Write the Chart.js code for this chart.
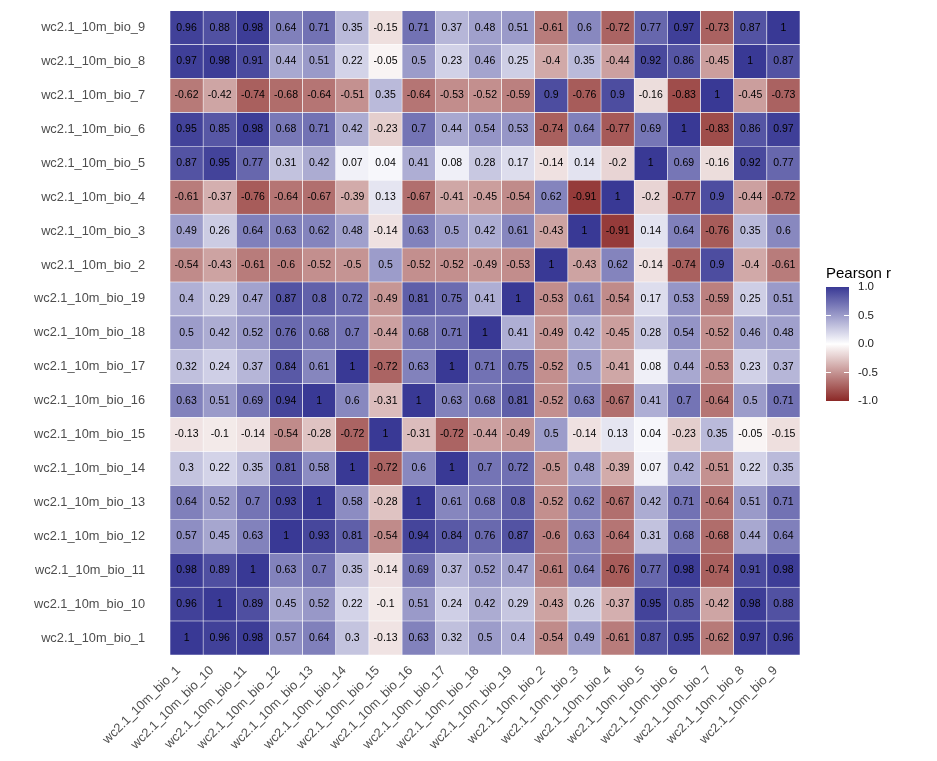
<!DOCTYPE html>
<html>
<head>
<meta charset="utf-8">
<script src="https://cdn.jsdelivr.net/npm/chart.js@4.4.1/dist/chart.umd.min.js"></script>
<style>
  html, body { margin: 0; padding: 0; background: #ffffff; overflow: hidden; }
  #wrap { width: 937px; height: 775px; position: relative; margin-top: -14px; }
</style>
</head>
<body>
<div id="wrap"><canvas id="c"></canvas></div>
<script>
// Variable order (x: left to right, y: bottom to top)
const vars = ["wc2.1_10m_bio_1","wc2.1_10m_bio_10","wc2.1_10m_bio_11","wc2.1_10m_bio_12","wc2.1_10m_bio_13",
  "wc2.1_10m_bio_14","wc2.1_10m_bio_15","wc2.1_10m_bio_16","wc2.1_10m_bio_17","wc2.1_10m_bio_18",
  "wc2.1_10m_bio_19","wc2.1_10m_bio_2","wc2.1_10m_bio_3","wc2.1_10m_bio_4","wc2.1_10m_bio_5",
  "wc2.1_10m_bio_6","wc2.1_10m_bio_7","wc2.1_10m_bio_8","wc2.1_10m_bio_9"];

// Correlation rows (one per variable, columns in the order of vars)
const r_bio_1  = [1, 0.96, 0.98, 0.57, 0.64, 0.3, -0.13, 0.63, 0.32, 0.5, 0.4, -0.54, 0.49, -0.61, 0.87, 0.95, -0.62, 0.97, 0.96];
const r_bio_10 = [0.96, 1, 0.89, 0.45, 0.52, 0.22, -0.1, 0.51, 0.24, 0.42, 0.29, -0.43, 0.26, -0.37, 0.95, 0.85, -0.42, 0.98, 0.88];
const r_bio_11 = [0.98, 0.89, 1, 0.63, 0.7, 0.35, -0.14, 0.69, 0.37, 0.52, 0.47, -0.61, 0.64, -0.76, 0.77, 0.98, -0.74, 0.91, 0.98];
const r_bio_12 = [0.57, 0.45, 0.63, 1, 0.93, 0.81, -0.54, 0.94, 0.84, 0.76, 0.87, -0.6, 0.63, -0.64, 0.31, 0.68, -0.68, 0.44, 0.64];
const r_bio_13 = [0.64, 0.52, 0.7, 0.93, 1, 0.58, -0.28, 1, 0.61, 0.68, 0.8, -0.52, 0.62, -0.67, 0.42, 0.71, -0.64, 0.51, 0.71];
const r_bio_14 = [0.3, 0.22, 0.35, 0.81, 0.58, 1, -0.72, 0.6, 1, 0.7, 0.72, -0.5, 0.48, -0.39, 0.07, 0.42, -0.51, 0.22, 0.35];
const r_bio_15 = [-0.13, -0.1, -0.14, -0.54, -0.28, -0.72, 1, -0.31, -0.72, -0.44, -0.49, 0.5, -0.14, 0.13, 0.04, -0.23, 0.35, -0.05, -0.15];
const r_bio_16 = [0.63, 0.51, 0.69, 0.94, 1, 0.6, -0.31, 1, 0.63, 0.68, 0.81, -0.52, 0.63, -0.67, 0.41, 0.7, -0.64, 0.5, 0.71];
const r_bio_17 = [0.32, 0.24, 0.37, 0.84, 0.61, 1, -0.72, 0.63, 1, 0.71, 0.75, -0.52, 0.5, -0.41, 0.08, 0.44, -0.53, 0.23, 0.37];
const r_bio_18 = [0.5, 0.42, 0.52, 0.76, 0.68, 0.7, -0.44, 0.68, 0.71, 1, 0.41, -0.49, 0.42, -0.45, 0.28, 0.54, -0.52, 0.46, 0.48];
const r_bio_19 = [0.4, 0.29, 0.47, 0.87, 0.8, 0.72, -0.49, 0.81, 0.75, 0.41, 1, -0.53, 0.61, -0.54, 0.17, 0.53, -0.59, 0.25, 0.51];
const r_bio_2  = [-0.54, -0.43, -0.61, -0.6, -0.52, -0.5, 0.5, -0.52, -0.52, -0.49, -0.53, 1, -0.43, 0.62, -0.14, -0.74, 0.9, -0.4, -0.61];
const r_bio_3  = [0.49, 0.26, 0.64, 0.63, 0.62, 0.48, -0.14, 0.63, 0.5, 0.42, 0.61, -0.43, 1, -0.91, 0.14, 0.64, -0.76, 0.35, 0.6];
const r_bio_4  = [-0.61, -0.37, -0.76, -0.64, -0.67, -0.39, 0.13, -0.67, -0.41, -0.45, -0.54, 0.62, -0.91, 1, -0.2, -0.77, 0.9, -0.44, -0.72];
const r_bio_5  = [0.87, 0.95, 0.77, 0.31, 0.42, 0.07, 0.04, 0.41, 0.08, 0.28, 0.17, -0.14, 0.14, -0.2, 1, 0.69, -0.16, 0.92, 0.77];
const r_bio_6  = [0.95, 0.85, 0.98, 0.68, 0.71, 0.42, -0.23, 0.7, 0.44, 0.54, 0.53, -0.74, 0.64, -0.77, 0.69, 1, -0.83, 0.86, 0.97];
const r_bio_7  = [-0.62, -0.42, -0.74, -0.68, -0.64, -0.51, 0.35, -0.64, -0.53, -0.52, -0.59, 0.9, -0.76, 0.9, -0.16, -0.83, 1, -0.45, -0.73];
const r_bio_8  = [0.97, 0.98, 0.91, 0.44, 0.51, 0.22, -0.05, 0.5, 0.23, 0.46, 0.25, -0.4, 0.35, -0.44, 0.92, 0.86, -0.45, 1, 0.87];
const r_bio_9  = [0.96, 0.88, 0.98, 0.64, 0.71, 0.35, -0.15, 0.71, 0.37, 0.48, 0.51, -0.61, 0.6, -0.72, 0.77, 0.97, -0.73, 0.87, 1];

const rows = [r_bio_1, r_bio_10, r_bio_11, r_bio_12, r_bio_13, r_bio_14, r_bio_15, r_bio_16, r_bio_17, r_bio_18,
  r_bio_19, r_bio_2, r_bio_3, r_bio_4, r_bio_5, r_bio_6, r_bio_7, r_bio_8, r_bio_9];

const legendTitle = "Pearson r";
const legendTicks = [1.0, 0.5, 0.0, -0.5, -1.0];

const HIGH = [57, 57, 149];
const LOW = [139, 40, 38];
function fillFor(v) {
  const t = Math.min(1, Math.abs(v));
  const c = v >= 0 ? HIGH : LOW;
  const m = c.map(k => Math.round(255 + (k - 255) * t));
  return `rgb(${m[0]},${m[1]},${m[2]})`;
}

const datasets = rows.map((row, i) => ({
  label: vars[i],
  data: row.map(() => [i - 0.5, i + 0.5]),
  corr: row,
  backgroundColor: row.map(v => fillFor(v)),
  borderColor: '#ffffff',
  borderWidth: 0.6,
  borderSkipped: false,
  grouped: false,
  barPercentage: 1,
  categoryPercentage: 1
}));

const cellText = {
  id: 'cellText',
  afterDatasetsDraw(chart) {
    const ctx = chart.ctx;
    ctx.save();
    ctx.font = '10.5px "Liberation Sans", Arial, sans-serif';
    ctx.fillStyle = '#000000';
    ctx.textAlign = 'center';
    ctx.textBaseline = 'middle';
    chart.data.datasets.forEach((ds, di) => {
      const meta = chart.getDatasetMeta(di);
      meta.data.forEach((el, j) => {
        const cp = el.getCenterPoint();
        ctx.fillText(String(ds.corr[j]), cp.x, cp.y);
      });
    });
    ctx.restore();
  }
};

// canvas is shifted up by 14px inside the window; OFF compensates for legend drawing
const OFF = 14;
const colorBar = {
  id: 'colorBar',
  afterDraw(chart) {
    const ctx = chart.ctx;
    const x0 = 826, x1 = 849, yTop = 287 + OFF, yBot = 401 + OFF;
    ctx.save();
    ctx.font = '15px "Liberation Sans", Arial, sans-serif';
    ctx.fillStyle = '#000000';
    ctx.textAlign = 'left';
    ctx.textBaseline = 'alphabetic';
    ctx.fillText(legendTitle, 826, 278 + OFF);
    const g = ctx.createLinearGradient(0, yTop, 0, yBot);
    for (let s = 0; s <= 20; s++) {
      const v = 1 - s / 10;
      g.addColorStop(s / 20, fillFor(v));
    }
    ctx.fillStyle = g;
    ctx.fillRect(x0, yTop, x1 - x0, yBot - yTop);
    ctx.font = '11.5px "Liberation Sans", Arial, sans-serif';
    ctx.fillStyle = '#1a1a1a';
    ctx.textBaseline = 'middle';
    legendTicks.forEach(v => {
      const y = yTop + (1 - v) / 2 * (yBot - yTop);
      ctx.fillText(v.toFixed(1), 858, y);
      if (v < 1 && v > -1) {
        ctx.strokeStyle = '#ffffff';
        ctx.lineWidth = 1;
        ctx.beginPath();
        ctx.moveTo(x0, y); ctx.lineTo(x0 + 5, y);
        ctx.moveTo(x1 - 5, y); ctx.lineTo(x1, y);
        ctx.stroke();
      }
    });
    ctx.restore();
  }
};

new Chart(document.getElementById('c'), {
  type: 'bar',
  data: { labels: vars, datasets },
  options: {
    responsive: true,
    maintainAspectRatio: false,
    animation: false,
    layout: { autoPadding: false, padding: { top: 11, right: 137, left: 0, bottom: 0 } },
    plugins: { legend: { display: false }, tooltip: { enabled: false }, title: { display: false } },
    scales: {
      x: {
        type: 'category',
        offset: true,
        grid: { display: false },
        border: { display: false },
        ticks: {
          color: '#4d4d4d',
          font: { family: '"Liberation Sans", Arial, sans-serif', size: 12.8 },
          minRotation: 45, maxRotation: 45,
          autoSkip: false,
          padding: 0,
          labelOffset: -8
        },
        afterFit(scale) { scale.height = 106; }
      },
      y: {
        type: 'linear',
        min: -0.5, max: 18.5,
        grid: { display: false },
        border: { display: false },
        afterBuildTicks(scale) { scale.ticks = vars.map((_, i) => ({ value: i })); },
        ticks: {
          color: '#4d4d4d',
          font: { family: '"Liberation Sans", Arial, sans-serif', size: 12.8 },
          padding: 17,
          autoSkip: false,
          callback: (v) => vars[v] !== undefined ? vars[v] : ''
        },
        afterFit(scale) { scale.width = 170; }
      }
    }
  },
  plugins: [cellText, colorBar]
});
</script>
</body>
</html>
